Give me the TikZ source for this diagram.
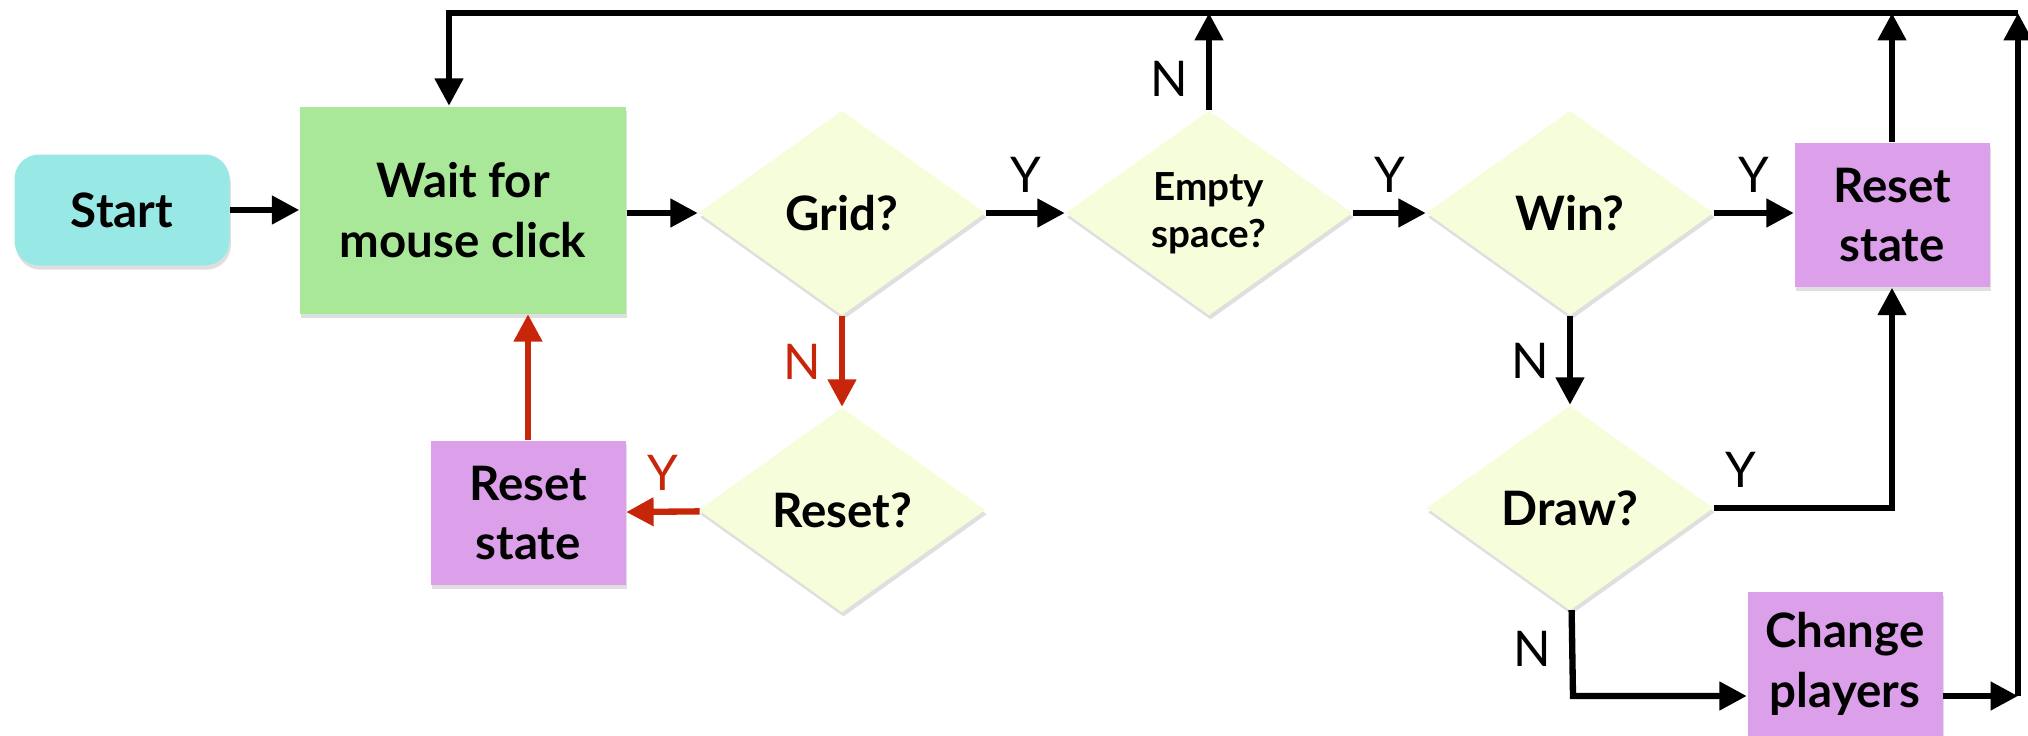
\documentclass[tikz,border=0pt]{standalone}
\usepackage{fontspec}
\setmainfont{Lato}
\usepackage{tikz}
\usetikzlibrary{arrows.meta,positioning,shapes.geometric,shadows,calc}
\tikzset{>={Triangle[length=7.8pt,width=7.8pt]}}
\definecolor{startcyan}{RGB}{152,232,230}
\definecolor{waitgreen}{RGB}{168,232,152}
\definecolor{askyellow}{RGB}{246,253,218}
\definecolor{actpurple}{RGB}{220,160,234}
\definecolor{backred}{RGB}{200,38,10}

\begin{document}
\begin{tikzpicture}[
    softshadow/.style={drop shadow={shadow xshift=0.4pt, shadow yshift=-1.2pt, opacity=0.25}},
    box/.style={softshadow, inner sep=0pt, align=center, font=\fontsize{13.5}{17}\selectfont\bfseries},
    ask/.style={box, diamond, aspect=1.4, fill=askyellow, minimum width=2.87cm, minimum height=2.05cm},
    act/.style={box, fill=actpurple, minimum width=1.95cm, minimum height=1.44cm},
    lbl/.style={font=\fontsize{14}{16}\selectfont, inner sep=5pt},
    flow/.style={->, line width=1.8pt}
  ]
    \useasboundingbox (0,0) rectangle (20.28,7.35);

    \node[box, rounded corners=7pt, fill=startcyan, minimum width=2.15cm, minimum height=1.11cm] (start) at (1.22,5.25) {Start};
    \node[box, fill=waitgreen, minimum width=3.26cm, minimum height=2.07cm] (wait) at (4.63,5.25) {Wait for\\mouse click};
    \node[ask] (grid) at (8.42,5.22) {Grid?};
    \node[ask, font=\fontsize{11}{13.5}\selectfont\bfseries] (empty) at (12.09,5.22) {Empty\\space?};
    \node[ask] (win) at (15.70,5.22) {Win?};
    \node[act] (resetR) at (18.92,5.20) {Reset\\state};
    \node[ask] (drawq) at (15.70,2.27) {Draw?};
    \node[act] (change) at (18.45,0.715) {Change\\players};
    \node[ask] (resetq) at (8.42,2.25) {Reset?};
    \node[act] (resetL) at (5.28,2.22) {Reset\\state};

    \coordinate (topL) at (4.49,7.22);
    \coordinate (topR) at (20.18,7.22);
    \coordinate (bend) at (15.73,0.39);

    \draw[flow] (start) -- (wait);
    \draw[flow] (wait.east |- grid) -- (grid);
    \draw[flow] (grid) -- node[lbl, above] {Y} (empty);
    \draw[flow] (empty) -- node[lbl, above] {Y} (win);
    \draw[flow] (win) -- node[lbl, above] {Y} (resetR.west |- win);
    \draw[flow] (empty) -- node[lbl, left, pos=0.32] {N} (empty |- topR);
    \draw[flow] (resetR) -- (resetR |- topR);
    \draw[flow] (win) -- node[lbl, left] {N} (drawq);
    \draw[flow] (drawq) -- node[lbl, above, pos=0.15] {Y} (drawq -| resetR) -- (resetR);
    \draw[flow] (drawq) -- node[lbl, left, pos=0.45] {N} (bend) -- (bend -| change.west);
    \draw[flow] (bend -| change.east) -- (bend -| topR);
    \draw[flow] (bend -| topR) -- (topR);
    \draw[flow] (topR) -- (topL) -- (topL |- wait.north);

    \draw[flow, backred] (grid) -- node[lbl, left] {N} (resetq);
    \draw[flow, backred] (resetq) -- node[lbl, above] {Y} (resetL);
    \draw[flow, backred] (resetL) -- (resetL |- wait.south);
  \end{tikzpicture}
\end{document}
